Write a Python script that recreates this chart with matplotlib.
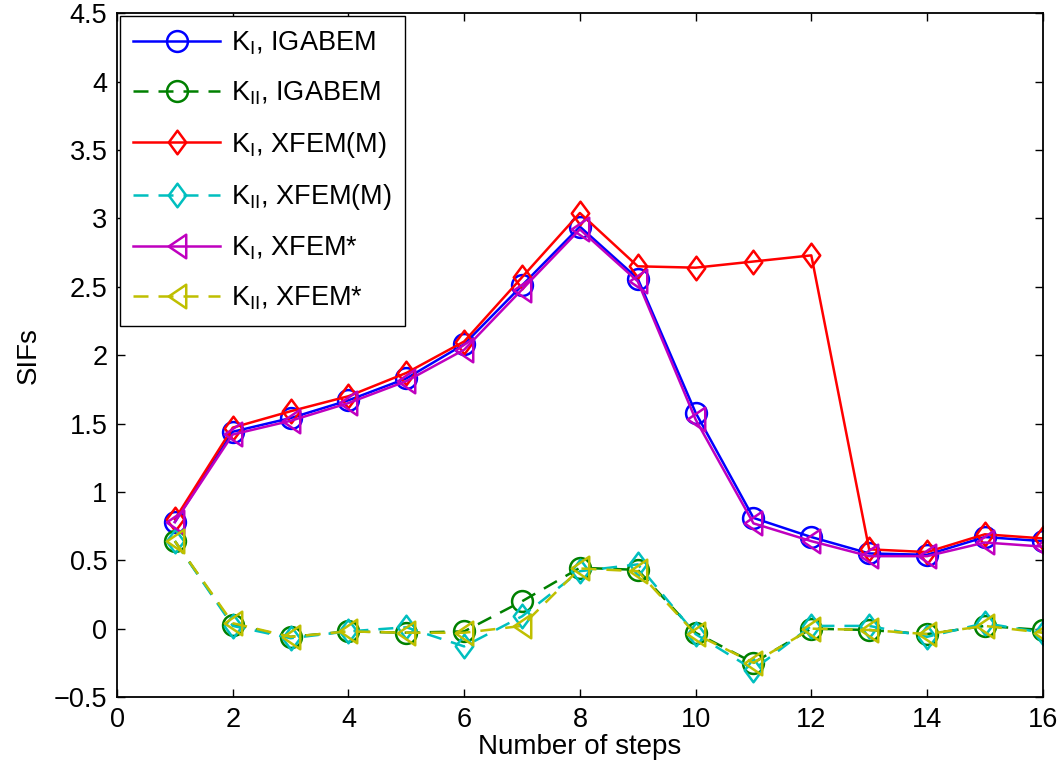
import matplotlib
matplotlib.use('Agg')
import matplotlib.pyplot as plt
from matplotlib.path import Path

plt.rcParams['font.family'] = ['Liberation Sans', 'DejaVu Sans']
plt.rcParams['mathtext.fontset'] = 'custom'
plt.rcParams['mathtext.rm'] = 'Liberation Sans'

steps = [1, 2, 3, 4, 5, 6, 7, 8, 9, 10, 11, 12, 13, 14, 15, 16]

k1_igabem = [0.78, 1.44, 1.54, 1.67, 1.83, 2.08, 2.51, 2.94, 2.56, 1.58,
             0.81, 0.67, 0.55, 0.54, 0.67, 0.64]
k2_igabem = [0.64, 0.03, -0.06, -0.02, -0.03, -0.02, 0.20, 0.445, 0.43, -0.03,
             -0.25, 0.0, -0.01, -0.04, 0.02, -0.01]
k1_xfem_m = [0.80, 1.47, 1.59, 1.70, 1.87, 2.10, 2.57, 3.04, 2.65, 2.64,
             2.685, 2.73, 0.58, 0.56, 0.69, 0.66]
k2_xfem_m = [0.64, 0.02, -0.07, -0.02, 0.01, -0.13, 0.09, 0.42, 0.47, -0.04,
             -0.30, 0.02, 0.02, -0.06, 0.04, -0.03]
k1_xfem_s = [0.78, 1.42, 1.52, 1.65, 1.81, 2.04, 2.48, 2.92, 2.54, 1.53,
             0.77, 0.64, 0.53, 0.53, 0.63, 0.60]
k2_xfem_s = [0.64, 0.04, -0.06, -0.02, -0.03, -0.03, 0.02, 0.44, 0.42, -0.04,
             -0.25, 0.0, -0.01, -0.04, 0.02, -0.03]

# MATLAB style markers: diamond and left triangle are taller than wide
diamond = Path([(0, 1), (0.74, 0), (0, -1), (-0.74, 0), (0, 1)], closed=True)
tri_left = Path([(-0.74, 0), (0.74, -1), (0.74, 1), (-0.74, 0)], closed=True)

series = [
    (k1_igabem, '-', 'o', 15, (0, 0, 1), r'K$_\mathrm{I}$, IGABEM'),
    (k2_igabem, '--', 'o', 15, (0, 0.5, 0), r'K$_\mathrm{II}$, IGABEM'),
    (k1_xfem_m, '-', diamond, 17, (1, 0, 0), r'K$_\mathrm{I}$, XFEM(M)'),
    (k2_xfem_m, '--', diamond, 17, (0, 0.75, 0.75), r'K$_\mathrm{II}$, XFEM(M)'),
    (k1_xfem_s, '-', tri_left, 17, (0.75, 0, 0.75), r'K$_\mathrm{I}$, XFEM*'),
    (k2_xfem_s, '--', tri_left, 17, (0.75, 0.75, 0), r'K$_\mathrm{II}$, XFEM*'),
]


def main():
    fig = plt.figure(figsize=(10.64, 7.76), dpi=100)
    ax = fig.add_axes([0.110, 0.1018, 0.870, 0.881])
    for vals, ls, mk, ms, col, lab in series:
        kw = dict(dashes=(6, 4)) if ls == '--' else {}
        ax.plot(steps, vals, linestyle=ls, marker=mk, color=col,
                markerfacecolor='none', markeredgecolor=col, markersize=ms,
                markeredgewidth=1.8, linewidth=1.8, label=lab, **kw)
    ax.set_xlim(0, 16)
    ax.set_ylim(-0.5, 4.5)
    ax.set_xticks(range(0, 17, 2))
    ax.set_yticks([-0.5, 0, 0.5, 1, 1.5, 2, 2.5, 3, 3.5, 4, 4.5])
    ax.set_yticklabels(['\u22120.5', '0', '0.5', '1', '1.5', '2', '2.5', '3', '3.5', '4', '4.5'])
    ax.tick_params(direction='in', top=True, right=True, labelsize=19.5,
                   length=5.5, width=1, pad=7)
    for s in ax.spines.values():
        s.set_linewidth(1.3)
    ax.set_xlabel('Number of steps', fontsize=20, labelpad=1)
    ax.set_ylabel('SIFs', fontsize=20, labelpad=9)
    leg = ax.legend(loc='upper left', fontsize=19.5, handlelength=3.2, handletextpad=0.4,
                    fancybox=False, framealpha=1, edgecolor='black',
                    borderaxespad=0.1, labelspacing=0.83, borderpad=0.5)
    leg.get_frame().set_linewidth(1.0)
    fig.savefig('out.png', dpi=100)


if __name__ == '__main__':
    main()
